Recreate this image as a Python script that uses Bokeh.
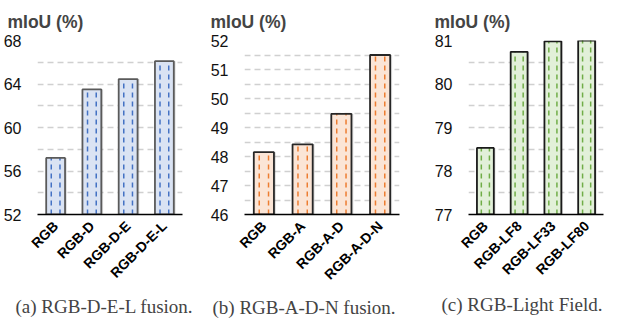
import math
from bokeh.plotting import figure
from bokeh.models import FactorRange, Range1d, FixedTicker, Title, ColumnDataSource
from bokeh.layouts import row
from bokeh.transform import dodge
from bokeh.embed import file_html
from bokeh.resources import INLINE

# ---- data ----
cats_a = ["RGB", "RGB-D", "RGB-D-E", "RGB-D-E-L"]
vals_a = [57.2, 63.5, 64.45, 66.1]
ticks_a = [52, 56, 60, 64, 68]
grid_a = [54, 56, 58, 60, 62, 64, 66, 68]

cats_b = ["RGB", "RGB-A", "RGB-A-D", "RGB-A-D-N"]
vals_b = [48.15, 48.42, 49.47, 51.5]
ticks_b = [46, 47, 48, 49, 50, 51, 52]
grid_b = [46.5, 47, 47.5, 48, 48.5, 49, 49.5, 50, 50.5, 51, 51.5, 52]

cats_c = ["RGB", "RGB-LF8", "RGB-LF33", "RGB-LF80"]
vals_c = [78.53, 80.74, 80.98, 81.03]
ticks_c = [77, 78, 79, 80, 81]
grid_c = [77.5, 78, 78.5, 79, 79.5, 80, 80.5, 81]

ylabel = "mIoU (%)"
captions = ["(a) RGB-D-E-L fusion.", "(b) RGB-A-D-N fusion.", "(c) RGB-Light Field."]

H = 320


def panel(cats, vals, ticks, grid, fill, hatch, border, caption,
          width, left, right, top, bw, title_off, cap_off, cap_standoff):
    ymin, ymax = ticks[0], ticks[-1]
    src = ColumnDataSource(dict(cats=cats, vals=vals, base=[ymin] * len(cats)))
    p = figure(width=width, height=H, x_range=FactorRange(*cats, range_padding=0),
               y_range=Range1d(ymin, ymax), output_backend="svg", toolbar_location=None,
               min_border_left=left, min_border_right=right, min_border_top=top,
               min_border_bottom=60)
    p.outline_line_color = None
    p.xgrid.grid_line_color = None
    p.ygrid.ticker = FixedTicker(ticks=grid)
    p.ygrid.grid_line_color = "#d0d0d0"
    p.ygrid.grid_line_dash = "6 4"
    p.ygrid.grid_line_width = 1.5

    p.yaxis.ticker = FixedTicker(ticks=ticks)
    p.yaxis.axis_line_color = None
    p.yaxis.major_tick_line_color = None
    p.yaxis.minor_tick_line_color = None
    p.yaxis.major_label_text_font = "Liberation Sans"
    p.yaxis.major_label_text_font_size = "16px"
    p.yaxis.major_label_text_color = "#111111"
    p.yaxis.major_label_standoff = 10

    p.xaxis.axis_line_color = "black"
    p.xaxis.axis_line_width = 1.6
    p.xaxis.major_tick_line_color = None
    p.xaxis.minor_tick_line_color = None
    p.xaxis.major_label_orientation = math.pi / 4
    p.xaxis.major_label_text_font = "Liberation Sans"
    p.xaxis.major_label_text_font_style = "bold"
    p.xaxis.major_label_text_font_size = "14px"
    p.xaxis.major_label_text_color = "black"
    p.xaxis.major_label_standoff = 3

    # soft shadow on the right of each bar
    p.vbar(x=dodge("cats", 0.05, range=p.x_range), top="vals", bottom="base", width=bw,
           source=src, fill_color="#000000", fill_alpha=0.13, line_color=None)
    p.vbar(x="cats", top="vals", bottom="base", width=bw, source=src,
           fill_color=fill, line_color=None)
    for off in (-0.12, 0.12):
        p.segment(x0=dodge("cats", off, range=p.x_range), y0="base",
                  x1=dodge("cats", off, range=p.x_range), y1="vals",
                  source=src, line_color=hatch, line_width=1.5, line_dash="5 4")
    p.vbar(x="cats", top="vals", bottom="base", width=bw, source=src,
           fill_color=None, line_color=border, line_width=1.8)

    p.title.text = ylabel
    p.title.align = "left"
    p.title.offset = title_off
    p.title.text_font = "Liberation Sans"
    p.title.text_font_style = "bold"
    p.title.text_font_size = "17.5px"
    p.title.standoff = 18

    cap = Title(text=caption, align="left", text_font="Liberation Serif",
                text_font_style="normal", text_font_size="19px", offset=cap_off,
                standoff=cap_standoff)
    p.add_layout(cap, "below")
    return p


pa = panel(cats_a, vals_a, ticks_a, grid_a, "#dae3f3", "#4472c4", "#5a5a5a", captions[0],
           204, 30, 22, 38, 0.52, -30, -22, 8)
pb = panel(cats_b, vals_b, ticks_b, grid_b, "#fbe5d6", "#ed7d31", "#262626", captions[1],
           204, 40, 9, 38, 0.52, -34, -32, 6)
pc = panel(cats_c, vals_c, ticks_c, grid_c, "#e2f0d9", "#70ad47", "#1a1a1a", captions[2],
           204, 60, 9, 38, 0.5, -34, -27, 11)

layout = row(pa, pb, pc, spacing=0)
open("out.html", "w").write(file_html(layout, INLINE))
